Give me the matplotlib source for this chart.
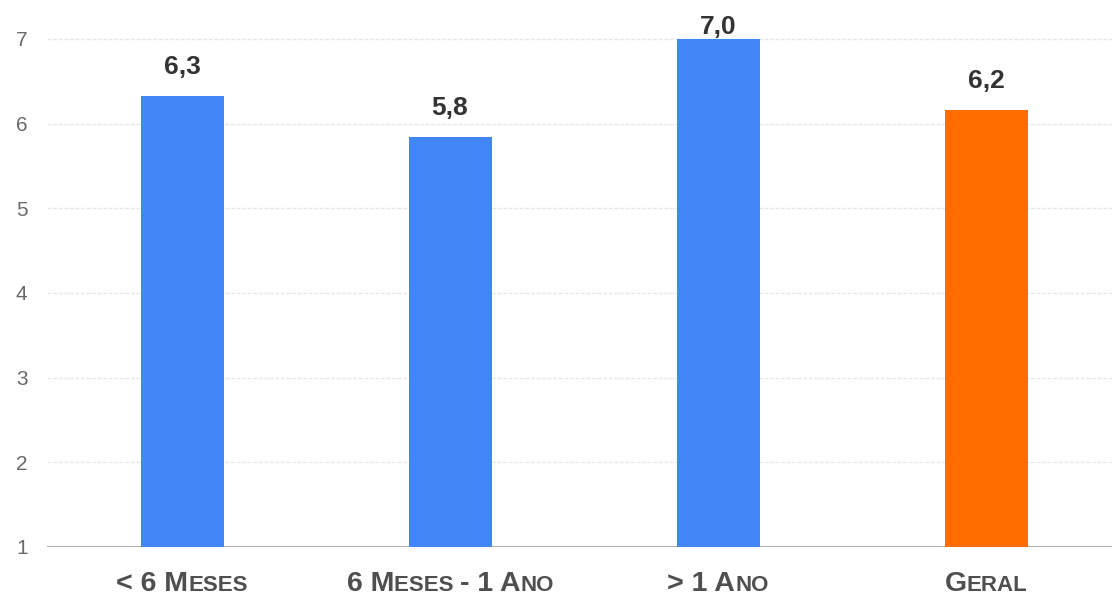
import matplotlib
matplotlib.use("Agg")
import matplotlib.pyplot as plt
from matplotlib.offsetbox import TextArea, HPacker, AnnotationBbox

# dados
categorias = ["< 6 Meses", "6 Meses - 1 Ano", "> 1 Ano", "Geral"]
valores = [6.33, 5.84, 7.0, 6.16]
cores = ["#4285F4", "#4285F4", "#4285F4", "#FF6D01"]
yticks = [1, 2, 3, 4, 5, 6, 7]

plt.rcParams['font.family'] = ['Liberation Sans', 'DejaVu Sans']

fig = plt.figure(figsize=(11.12, 5.97), dpi=100)
ax = fig.add_axes([0.0423, 0.0838, 0.9577, 0.9162])

x = list(range(len(categorias)))
ax.bar(x, [v - 1 for v in valores], bottom=1, width=0.31, color=cores, zorder=3)

# rotulo em cima da barra, mas sem passar do topo
for xi, v in zip(x, valores):
    ax.text(xi, min(v + 0.2, 7.0), f"{v:.1f}".replace(".", ","), ha="center", va="bottom",
            fontsize=19, fontweight="bold", color="#333333", zorder=4)

ax.set_xlim(-0.504, 3.47)
ax.set_ylim(1, 7.46)
ax.set_yticks(yticks)
ax.tick_params(axis="y", length=0, labelsize=15, labelcolor="#6a6a6a", pad=14)
ax.set_xticks([])
for s in ["top", "right", "left", "bottom"]:
    ax.spines[s].set_visible(False)
ax.grid(axis="y", color="#e8e8e8", linewidth=1, linestyle=(0, (3, 1)), zorder=0)
ax.axhline(1, color="#b0b0b0", linewidth=1.5, zorder=2)


def small_caps(texto, size=20.5, ratio=0.78):
    # agrupa letras em blocos de caixa alta / versalete
    partes = []
    atual, tipo = "", None
    for ch in texto:
        t = "low" if ch.islower() else "up"
        if ch == " ":
            t = tipo or "up"
        if tipo is not None and t != tipo:
            partes.append((atual, tipo))
            atual = ""
        atual += ch
        tipo = t
    partes.append((atual, tipo))
    filhos = []
    for p, t in partes:
        fs = size if t == "up" else size * ratio
        filhos.append(TextArea(p.upper(), textprops=dict(fontsize=fs, fontweight="bold",
                                                         color="#4f4f4f")))
    return HPacker(children=filhos, align="baseline", pad=0, sep=0)


for xi, c in zip(x, categorias):
    box = small_caps(c)
    ab = AnnotationBbox(box, (xi, 0), xycoords=ax.get_xaxis_transform(),
                        xybox=(0, -17), boxcoords="offset points",
                        box_alignment=(0.5, 1), frameon=False, annotation_clip=False)
    ax.add_artist(ab)

fig.savefig("out.png", dpi=100)
